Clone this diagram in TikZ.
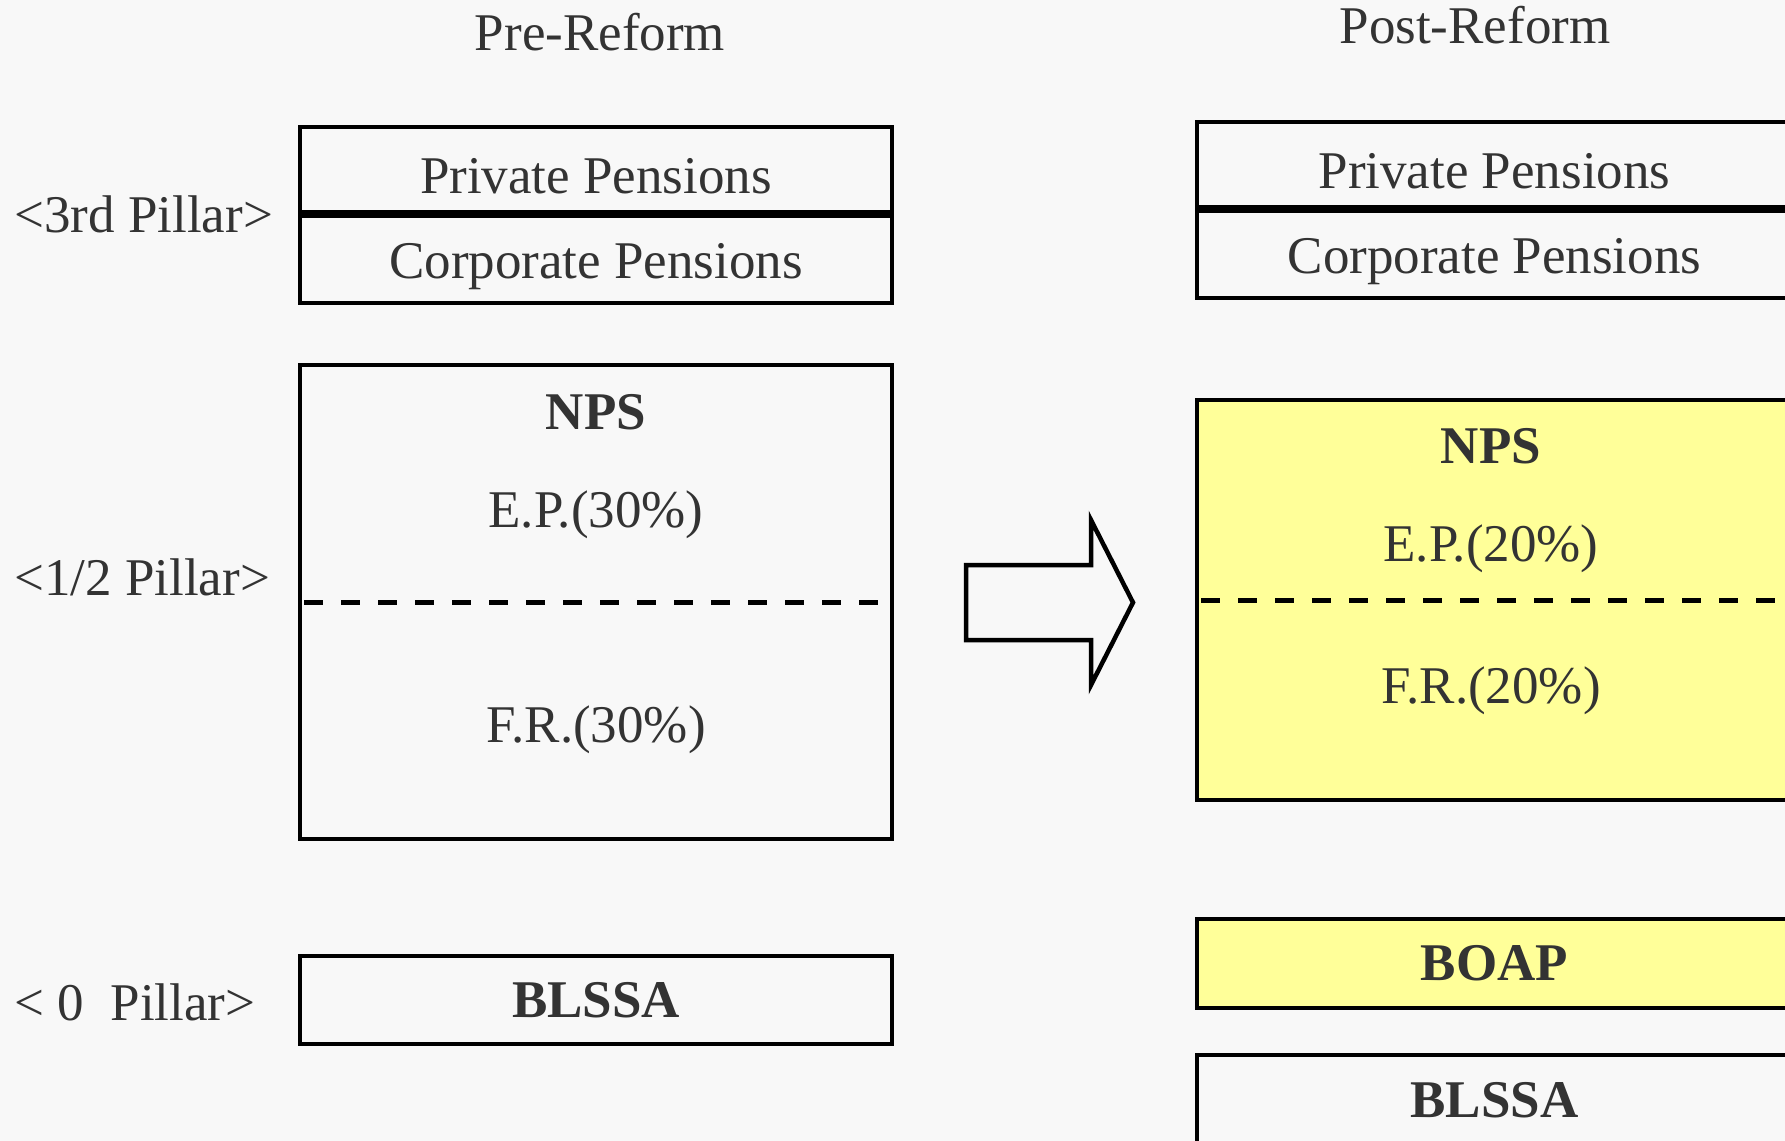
\documentclass[tikz,border=0pt]{standalone}
\usepackage{fontspec}
\setmainfont{Liberation Serif}
\usepackage{tikz}
\usetikzlibrary{positioning,calc}
\definecolor{PillarBg}{HTML}{F8F8F8}
\definecolor{PillarInk}{HTML}{333333}
\definecolor{PillarNew}{HTML}{FFFF99}
\tikzset{
  pen/text/.style={text=PillarInk, font=\fontsize{26.5}{30}\selectfont, inner sep=0pt},
  pen/bold/.style={pen/text, font=\fontsize{26.5}{30}\selectfont\bfseries},
  pen/box/.style={draw, line width=2pt, minimum width=296pt, inner sep=0pt, text=PillarInk, font=\fontsize{26.5}{30}\selectfont, align=center},
  pen/newbox/.style={pen/box, fill=PillarNew, minimum width=297.5pt},
  pen/top/.style={text height=24pt, text depth=0pt},
  pen/low/.style={text height=19.2pt, text depth=0pt},
  pen/split/.style={line width=2.5pt, dash pattern=on 9.5pt off 9pt, shorten <=3pt, shorten >=3pt},
  pen/bigarrow/.style={draw, line width=2.25pt, line join=miter}
}

\begin{document}
\begin{tikzpicture}[x=0.5pt,y=-0.5pt]
\useasboundingbox[fill=PillarBg] (0,0) rectangle (1785,1141);
\clip (0,0) rectangle (1785,1141);
% headings
\node[pen/text] (pre) at (600,32) {Pre-Reform};
\node[pen/text] (post) at (1475,25) {Post-Reform};
% pillar labels
\node[pen/text, anchor=west] (third) at (14,214) {<3rd Pillar>};
\node[pen/text, anchor=west] (half) at (14,577) {<1/2 Pillar>};
\node[pen/text, anchor=west] (zero) at (14,1002) {< 0~~Pillar>};
% pre-reform
\node[pen/box, pen/top, minimum height=42.5pt] (privold) at (596,169.5) {Private Pensions};
\node[pen/box, pen/low, minimum height=43.5pt] (corpold) at (596,259.5) {Corporate Pensions};
\node[pen/box, minimum height=237pt] (npsold) at (596,602) {};
\draw[pen/split] (npsold.west) -- (npsold.east);
\node[pen/bold] (npsoldname) at (596,412) {NPS};
\node[pen/text] (epold) at (596,515) {E.P.(30\%)};
\node[pen/text] (frold) at (596,730) {F.R.(30\%)};
\node[pen/box, font=\fontsize{26.5}{30}\selectfont\bfseries, minimum height=44pt] (blssaold) at (596,1000) {BLSSA};
% reform arrow
\draw[pen/bigarrow] (966,565) -- (1091,565) -- (1091,520) -- (1133,602.5)
  -- (1091,685) -- (1091,640) -- (966,640) -- cycle;
% post-reform
\node[pen/box, pen/top, minimum width=297.5pt, minimum height=42.5pt] (privnew) at (1494.5,164.5) {Private Pensions};
\node[pen/box, pen/low, minimum width=297.5pt, minimum height=43.5pt] (corpnew) at (1494.5,254.5) {Corporate Pensions};
\node[pen/newbox, minimum height=200pt] (npsnew) at (1494.5,600) {};
\draw[pen/split] (npsnew.west) -- (npsnew.east);
\node[pen/bold] (npsnewname) at (1491,446) {NPS};
\node[pen/text] (epnew) at (1491,549) {E.P.(20\%)};
\node[pen/text] (frnew) at (1491,691) {F.R.(20\%)};
\node[pen/newbox, font=\fontsize{26.5}{30}\selectfont\bfseries, minimum height=44.5pt] (boap) at (1494.5,963.5) {BOAP};
\node[pen/box, font=\fontsize{26.5}{30}\selectfont\bfseries, minimum width=297.5pt, minimum height=45pt] (blssanew) at (1494.5,1100) {BLSSA};
\end{tikzpicture}
\end{document}
